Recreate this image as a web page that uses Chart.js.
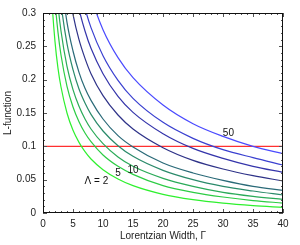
<!DOCTYPE html>
<html>
<head>
<meta charset="utf-8">
<script src="https://cdn.jsdelivr.net/npm/chart.js@4.4.1/dist/chart.umd.min.js"></script>
<style>
  html, body { margin: 0; padding: 0; background: #fff; }
  #wrap { width: 300px; height: 245px; }
</style>
</head>
<body>
<div id="wrap"><canvas id="lchart"></canvas></div>
<script>
// Lorentzian width values (x) shared by every curve
const widths = [1, 1.5, 2, 2.5, 3, 4, 5, 6, 7, 8, 10, 12.5, 15, 20, 25, 30, 35, 40];

// L-function values, one array per curve (green -> blue)
const lambda2  = [0.425, 0.318, 0.257, 0.217, 0.189, 0.150, 0.124, 0.106, 0.092, 0.081, 0.065, 0.051, 0.041, 0.028, 0.020, 0.0147, 0.011, 0.0083];
const lambda5  = [null, 0.393, 0.319, 0.271, 0.237, 0.190, 0.159, 0.137, 0.120, 0.107, 0.087, 0.070, 0.058, 0.041, 0.031, 0.024, 0.0187, 0.0149];
const lambda10 = [null, null, 0.367, 0.312, 0.273, 0.220, 0.185, 0.160, 0.141, 0.126, 0.104, 0.084, 0.070, 0.052, 0.040, 0.031, 0.025, 0.0205];
const curve4   = [null, null, null, 0.358, 0.314, 0.254, 0.215, 0.186, 0.165, 0.148, 0.123, 0.101, 0.085, 0.064, 0.050, 0.040, 0.033, 0.027];
const curve5   = [null, null, null, null, 0.353, 0.286, 0.243, 0.211, 0.187, 0.169, 0.141, 0.116, 0.099, 0.075, 0.060, 0.049, 0.040, 0.034];
const curve6   = [null, null, null, null, null, 0.350, 0.298, 0.260, 0.232, 0.209, 0.176, 0.147, 0.126, 0.098, 0.079, 0.066, 0.056, 0.048];
const curve7   = [null, null, null, null, null, null, 0.349, 0.306, 0.273, 0.247, 0.209, 0.175, 0.151, 0.119, 0.097, 0.082, 0.070, 0.061];
const curve8   = [null, null, null, null, null, null, null, 0.343, 0.307, 0.278, 0.236, 0.199, 0.172, 0.136, 0.112, 0.095, 0.083, 0.072];
const lambda50 = [null, null, null, null, null, null, null, null, 0.357, 0.324, 0.275, 0.233, 0.203, 0.162, 0.134, 0.115, 0.100, 0.089];

const threshold = 0.1;
const xTicks = [0, 5, 10, 15, 20, 25, 30, 35, 40];
const yTicks = [0, 0.05, 0.1, 0.15, 0.2, 0.25, 0.3];

const curves = [lambda2, lambda5, lambda10, curve4, curve5, curve6, curve7, curve8, lambda50];
const curveNames = ["Λ = 2", "Λ = 5", "Λ = 10", "curve 4", "curve 5", "curve 6", "curve 7", "curve 8", "Λ = 50"];
const colors = ["#2ef02e", "#2ccc44", "#2aaa58", "#2a8a6a", "#2a6a78", "#2e3288", "#3434aa", "#3a40d0", "#4a4aff"];

// in-plot labels (data coords)
const notes = [
  { text: "Λ = 2", x: 8.9, y: 0.047 },
  { text: "5", x: 12.5, y: 0.059 },
  { text: "10", x: 15.0, y: 0.064 },
  { text: "50", x: 30.9, y: 0.119 }
];

const FONT = "'Liberation Sans', Arial, sans-serif";

const datasets = curves.map((vals, i) => ({
  label: curveNames[i],
  data: widths.map((w, j) => ({ x: w, y: vals[j] })).filter(p => p.y !== null),
  borderColor: colors[i],
  borderWidth: 1.2,
  pointRadius: 0,
  fill: false,
  cubicInterpolationMode: "monotone"
}));

datasets.push({
  label: "threshold",
  data: [{ x: 0, y: threshold }, { x: 40, y: threshold }],
  borderColor: "#ff3030",
  borderWidth: 1.2,
  pointRadius: 0,
  fill: false
});

// box frame, inward tick marks on all sides, curve labels
const framePlugin = {
  id: "framePlugin",
  afterDatasetsDraw(chart) {
    const { ctx, chartArea: a, scales } = chart;
    const xs = scales.x, ys = scales.y;
    ctx.save();
    ctx.strokeStyle = "#555";
    ctx.lineWidth = 1;
    ctx.beginPath();
    for (let v = 0; v <= 40; v++) {
      const len = v % 5 === 0 ? 4 : 2;
      const px = Math.round(xs.getPixelForValue(v)) + 0.5;
      ctx.moveTo(px, a.bottom); ctx.lineTo(px, a.bottom - len);
      ctx.moveTo(px, a.top); ctx.lineTo(px, a.top + len);
    }
    for (let i = 0; i <= 30; i++) {
      const len = i % 5 === 0 ? 4 : 2;
      const py = Math.round(ys.getPixelForValue(i / 100)) + 0.5;
      ctx.moveTo(a.left, py); ctx.lineTo(a.left + len, py);
      ctx.moveTo(a.right, py); ctx.lineTo(a.right - len, py);
    }
    ctx.stroke();

    ctx.strokeStyle = "#111";
    ctx.strokeRect(a.left + 0.5, a.top + 0.5, a.right - a.left - 1, a.bottom - a.top - 1);

    ctx.fillStyle = "#111";
    ctx.font = "10px " + FONT;
    ctx.textAlign = "center";
    ctx.textBaseline = "middle";
    notes.forEach(n => {
      ctx.fillText(n.text, xs.getPixelForValue(n.x), ys.getPixelForValue(n.y));
    });
    ctx.restore();
  }
};

new Chart(document.getElementById("lchart"), {
  type: "line",
  data: { datasets: datasets },
  options: {
    responsive: true,
    maintainAspectRatio: false,
    animation: false,
    devicePixelRatio: 1,
    layout: { padding: { top: 11, right: 17, left: 0, bottom: 0 } },
    plugins: { legend: { display: false }, tooltip: { enabled: false } },
    scales: {
      x: {
        type: "linear",
        min: 0,
        max: 40,
        afterFit: s => { s.height = 32; },
        afterBuildTicks: s => { s.ticks = xTicks.map(v => ({ value: v })); },
        grid: { display: false, drawTicks: false },
        border: { display: false },
        ticks: { padding: 5, color: "#222", font: { family: FONT, size: 10 }, maxRotation: 0 },
        title: { display: true, text: "Lorentzian Width, Γ", color: "#222", font: { family: FONT, size: 10 }, padding: { top: 0, bottom: 3 } }
      },
      y: {
        min: 0,
        max: 0.3,
        afterFit: s => { s.width = 43; },
        afterBuildTicks: s => { s.ticks = yTicks.map(v => ({ value: v })); },
        grid: { display: false, drawTicks: false },
        border: { display: false },
        ticks: {
          padding: 7,
          color: "#222",
          font: { family: FONT, size: 10 },
          callback: v => String(+v.toFixed(2))
        },
        title: { display: true, text: "L-function", color: "#222", font: { family: FONT, size: 10 }, padding: { top: 2, bottom: 0 } }
      }
    }
  },
  plugins: [framePlugin]
});
</script>
</body>
</html>
